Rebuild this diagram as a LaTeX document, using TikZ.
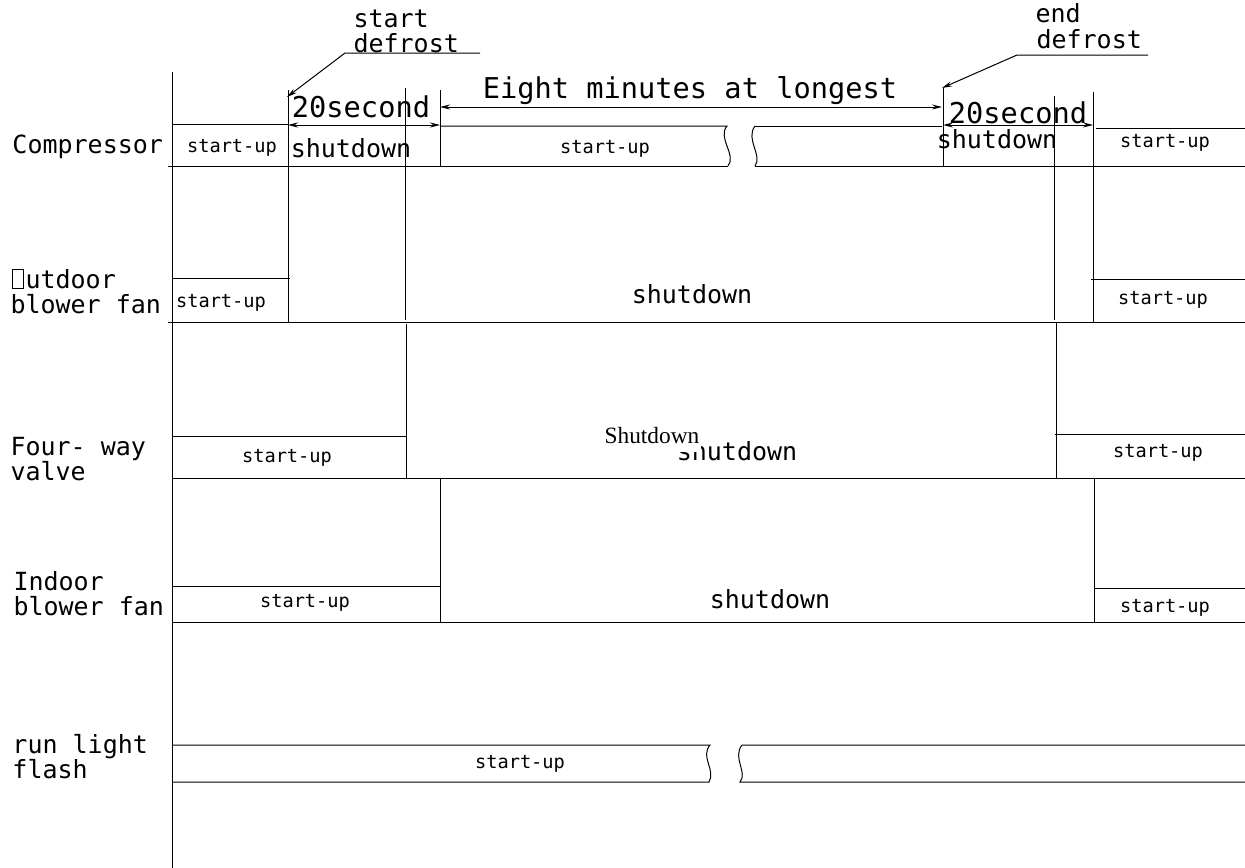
\documentclass[tikz,border=0pt]{standalone}
\usepackage{fontspec}
\usepackage{tikz}
\usetikzlibrary{arrows.meta}
\newfontfamily\cadfont{DejaVu Sans Mono}
\newfontfamily\timesfont{Liberation Serif}
\newcommand{\nobox}{\makebox[0.602em]{\fboxsep=0pt\fboxrule=0.5pt\fbox{\rule{0pt}{0.72em}\hspace{0.42em}}}}

\tikzset{
  sttxt/.style={font=\cadfont\fontsize{11.2}{13}\selectfont, inner sep=0pt, anchor=base},
  medtxt/.style={font=\cadfont\fontsize{15}{17}\selectfont, inner sep=0pt, anchor=base},
  bigtxt/.style={font=\cadfont\fontsize{17.2}{20}\selectfont, inner sep=0pt, anchor=base},
  dimarr/.style={{Stealth[length=6pt,width=3pt]}-{Stealth[length=6pt,width=3pt]}},
  leader/.style={-{Stealth[length=6pt,width=3pt]}}
}

\begin{document}
\begin{tikzpicture}[x=0.6pt,y=-0.6pt,line width=0.6pt]
        \useasboundingbox (0,0) rectangle (1245,868);
        \draw (172,72) -- (172,868);

        \draw (172,124) -- (288,124);
        \draw (440,126) -- (727,126) .. controls (717,138) and (737,155) .. (728,166);
        \draw (755,126) .. controls (745,139) and (763,156) .. (755,166);
        \draw (755,126) -- (942,126);
        \draw (1096,128) -- (1245,128);
        \draw (168,166) -- (728,166);
        \draw (755,166) -- (1245,166);

        \draw (288,90) -- (288,322);
        \draw (405,88) -- (405,320);
        \draw (406,324) -- (406,478);
        \draw (440,90) -- (440,166);
        \draw (440,478) -- (440,622);
        \draw (943,88) -- (943,166);
        \draw (1054,96) -- (1054,320);
        \draw (1056,322) -- (1056,478);
        \draw (1093,92) -- (1093,322);
        \draw (1094,478) -- (1094,622);

        \draw (172,278) -- (290,278);
        \draw (1091,279) -- (1245,279);
        \draw (168,322) -- (1245,322);
        \draw (172,436) -- (407,436);
        \draw (1055,434) -- (1245,434);
        \draw (172,478) -- (1245,478);
        \draw (172,586) -- (441,586);
        \draw (1094,588) -- (1245,588);
        \draw (172,622) -- (1245,622);

        \draw (172,745) -- (710,745) .. controls (700,757) and (716,770) .. (709,782) -- (172,782);
        \draw (1245,745) -- (742,745) .. controls (732,758) and (748,772) .. (740,782) -- (1245,782);

        \draw[dimarr] (288,125) -- (440,125);
        \draw[dimarr] (440,107) -- (942,107);
        \draw[dimarr] (943,125) -- (1093,125);
        \node[bigtxt] (twentyl) at (361,117) {20second};
        \node[bigtxt] (eight) at (690,98) {Eight minutes at longest};
        \node[bigtxt] (twentyr) at (1018,123) {20second};

        \draw[leader] (480,53) -- (345,53) -- (287,97);
        \node[medtxt,anchor=base west] (sdef1) at (353,27) {start};
        \node[medtxt,anchor=base west] (sdef2) at (353,52) {defrost};
        \draw[leader] (1148,55) -- (1017,55) -- (942,88);
        \node[medtxt,anchor=base west] (edef1) at (1035,22) {end};
        \node[medtxt,anchor=base west] (edef2) at (1036,48) {defrost};

        \node[medtxt,anchor=base west] (comp) at (12,153) {Compressor};
        \node[medtxt,anchor=base west] (outd1) at (10,288) {\nobox utdoor};
        \node[medtxt,anchor=base west] (outd2) at (10,313) {blower fan};
        \node[medtxt,anchor=base west] (four1) at (10,455) {Four- way};
        \node[medtxt,anchor=base west] (four2) at (10,480) {valve};
        \node[medtxt,anchor=base west] (ind1) at (13,590) {Indoor};
        \node[medtxt,anchor=base west] (ind2) at (13,615) {blower fan};
        \node[medtxt,anchor=base west] (run1) at (12,753) {run light};
        \node[medtxt,anchor=base west] (run2) at (12,778) {flash};

        \node[sttxt] (cmpa) at (232,152) {start-up};
        \node[medtxt] (cmpb) at (351,157) {shutdown};
        \node[sttxt] (cmpc) at (605,153) {start-up};
        \node[medtxt] (cmpd) at (997,148) {shutdown};
        \node[sttxt] (cmpe) at (1165,147) {start-up};

        \node[sttxt] (outa) at (221,307) {start-up};
        \node[medtxt] (outb) at (692,303) {shutdown};
        \node[sttxt] (outc) at (1163,304) {start-up};

        \node[sttxt] (fwva) at (287,462) {start-up};
        \node[medtxt] (fwvb) at (737,460) {shutdown};
        \node[font=\timesfont\fontsize{14}{16}\selectfont, fill=white, inner xsep=1pt, inner ysep=0pt, text depth=5.2pt, anchor=base] (fwvs) at (652,443) {Shutdown};
        \node[sttxt] (fwvc) at (1158,457) {start-up};

        \node[sttxt] (inda) at (305,607) {start-up};
        \node[medtxt] (indb) at (770,608) {shutdown};
        \node[sttxt] (indc) at (1165,612) {start-up};

        \node[sttxt] (runa) at (520,768) {start-up};
    \end{tikzpicture}
\end{document}
